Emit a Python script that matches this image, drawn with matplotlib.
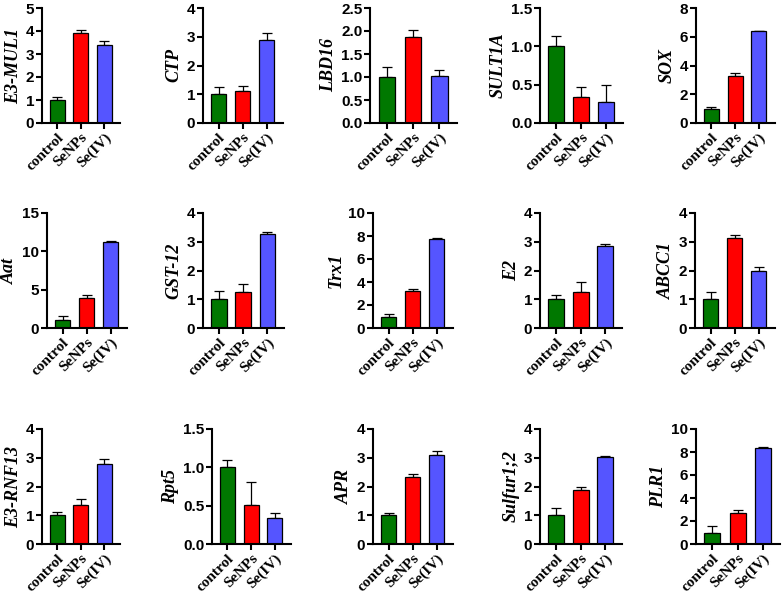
import matplotlib.pyplot as plt

groups = ['control', 'SeNPs', 'Se(IV)']
colors = ['#007800', '#ff0000', '#5555ff']

genes = ['E3-MUL1', 'CTP', 'LBD16', 'SULT1A', 'SOX',
         'Aat', 'GST-12', 'Trx1', 'E2', 'ABCC1',
         'E3-RNF13', 'Rpt5', 'APR', 'Sulfur1;2', 'PLR1']

means = [[1.0, 3.9, 3.4], [1.0, 1.12, 2.9], [1.0, 1.86, 1.02], [1.0, 0.34, 0.28], [1.0, 3.3, 6.38],
         [1.0, 3.9, 11.2], [1.0, 1.25, 3.28], [1.0, 3.2, 7.75], [1.0, 1.25, 2.85], [1.0, 3.12, 1.97],
         [1.0, 1.35, 2.8], [1.0, 0.51, 0.34], [1.0, 2.33, 3.1], [1.0, 1.88, 3.03], [1.0, 2.7, 8.35]]

errors = [[0.15, 0.15, 0.15], [0.25, 0.15, 0.22], [0.22, 0.17, 0.14], [0.13, 0.13, 0.22], [0.08, 0.15, 0.03],
          [0.6, 0.45, 0.2], [0.28, 0.28, 0.07], [0.25, 0.2, 0.1], [0.15, 0.35, 0.07], [0.25, 0.12, 0.15],
          [0.1, 0.2, 0.17], [0.1, 0.3, 0.07], [0.08, 0.12, 0.12], [0.25, 0.12, 0.03], [0.6, 0.25, 0.05]]

ymax = [5, 4, 2.5, 1.5, 8,
        15, 4, 10, 4, 4,
        4, 1.5, 4, 4, 10]
ystep = [1, 1, 0.5, 0.5, 2,
         5, 1, 2, 1, 1,
         1, 0.5, 1, 1, 2]

W, H = 784, 596
fig = plt.figure(figsize=(W / 100, H / 100), dpi=100)

# panel placement in pixels (left, right) per panel, top per row
lefts = [42, 203, 370, 540, 696,
         47, 203, 373, 540, 695,
         42, 212, 373, 540, 696]
rights = [120, 283, 457, 623, 775,
          127, 284, 453, 622, 775,
          120, 291, 453, 622, 780]
row_top = [8, 213, 429]
ax_h = 115

for i, gene in enumerate(genes):
    r, c = divmod(i, 5)
    ax = fig.add_axes([lefts[i] / W, 1 - (row_top[r] + ax_h) / H,
                       (rights[i] - lefts[i]) / W, ax_h / H])
    x = range(len(groups))
    ax.bar(x, means[i], width=0.64, color=colors, edgecolor='black', linewidth=0.9, zorder=2)
    ax.errorbar(x, means[i], yerr=[[0, 0, 0], errors[i]], fmt='none', ecolor='black',
                elinewidth=0.9, capsize=3.5, capthick=0.9, zorder=1)
    ax.set_xlim(-0.65, 2.68)
    ax.set_ylim(0, ymax[i])
    n = int(round(ymax[i] / ystep[i]))
    ticks = [k * ystep[i] for k in range(n + 1)]
    ax.set_yticks(ticks)
    if ystep[i] < 1:
        ax.set_yticklabels([f'{t:.1f}' for t in ticks])
    else:
        ax.set_yticklabels([f'{int(t)}' for t in ticks])
    ax.set_xticks(list(x))
    ax.set_xticklabels(groups, rotation=45, ha='right', rotation_mode='anchor',
                       fontfamily='Liberation Serif', fontweight='bold', fontsize=11)
    for lab in ax.get_yticklabels():
        lab.set_fontfamily('Liberation Sans')
        lab.set_fontweight('bold')
        lab.set_fontsize(11)
    ax.spines['top'].set_visible(False)
    ax.spines['right'].set_visible(False)
    ax.spines['left'].set_linewidth(1.5)
    ax.spines['bottom'].set_linewidth(1.5)
    ax.tick_params(axis='both', width=1.5, length=4, pad=1.5)
    ax.set_ylabel(gene, fontfamily='Liberation Serif', fontweight='bold', fontstyle='italic',
                  fontsize=13, labelpad=3)

plt.savefig('out.png', dpi=100)
